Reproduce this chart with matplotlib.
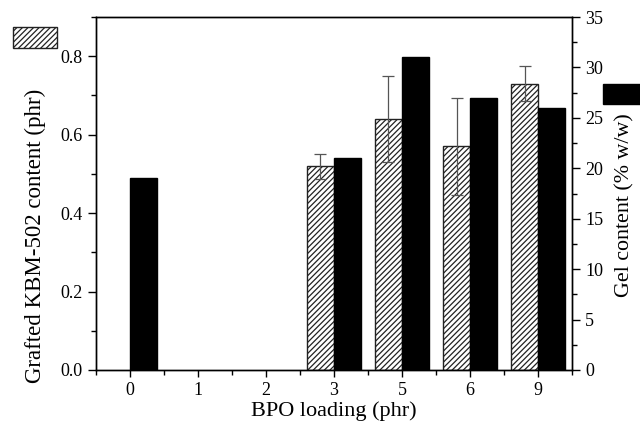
import numpy as np
import matplotlib.pyplot as plt
from matplotlib.patches import Rectangle
from matplotlib.ticker import MultipleLocator

plt.rcParams['font.family'] = ['Liberation Serif', 'DejaVu Serif']
plt.rcParams['hatch.linewidth'] = 0.9

bpo = ['0', '1', '2', '3', '5', '6', '9']
grafted = [0, 0, 0, 0.52, 0.64, 0.57, 0.73]
grafted_err = [0, 0, 0, 0.032, 0.11, 0.124, 0.044]
gel = [19, 0, 0, 21, 31, 27, 26]

x = np.arange(len(bpo))
w = 0.4

fig = plt.figure(figsize=(6.4, 4.26), dpi=100)
ax = fig.add_axes([0.15, 0.1315, 0.744, 0.8285])
ax2 = ax.twinx()

# hatched bars only where there is grafting data
g = np.array(grafted)
e = np.array(grafted_err)
mask = g > 0
ax.bar(x[mask] - w / 2, g[mask], w, color='white', edgecolor='#222222',
       hatch='//////', linewidth=1.0)
ax.errorbar(x[mask] - w / 2, g[mask], yerr=e[mask], fmt='none',
            ecolor='#555555', elinewidth=0.9, capsize=4, capthick=0.9)

gl = np.array(gel)
m2 = gl > 0
ax2.bar(x[m2] + w / 2, gl[m2], w, color='black', edgecolor='black')

ax.set_xlim(-0.5, 6.5)
ax.set_ylim(0, 0.9)
ax2.set_ylim(0, 35)
ax.set_xticks(x)
ax.set_xticklabels(bpo)
ax.xaxis.set_minor_locator(MultipleLocator(0.5))
ax.yaxis.set_major_locator(MultipleLocator(0.2))
ax.yaxis.set_minor_locator(MultipleLocator(0.1))
ax2.yaxis.set_major_locator(MultipleLocator(5))
ax2.yaxis.set_minor_locator(MultipleLocator(2.5))

for a in (ax, ax2):
    a.tick_params(which='major', direction='out', length=6, width=1, labelsize=13)
    a.tick_params(which='minor', direction='out', length=3.5, width=1)
    for s in a.spines.values():
        s.set_linewidth(1)
ax.tick_params(axis='x', which='major', length=5)

ax.set_xlabel('BPO loading (phr)', fontsize=16, labelpad=2)
ax.set_ylabel('Grafted KBM-502 content (phr)', fontsize=16.5)
ax2.set_ylabel('Gel content (% w/w)', fontsize=15.8)
ax.yaxis.set_label_coords(-0.105, 0.38)
ax2.yaxis.set_label_coords(1.09, 0.467)

# legend swatches placed outside the axes
fig.patches.append(Rectangle((0.021, 0.887), 0.068, 0.049, transform=fig.transFigure,
                             facecolor='white', edgecolor='#222222', hatch='//////',
                             linewidth=1.0, figure=fig))
fig.patches.append(Rectangle((0.942, 0.755), 0.07, 0.047, transform=fig.transFigure,
                             facecolor='black', edgecolor='black', figure=fig))

fig.savefig('out.png', dpi=100)
